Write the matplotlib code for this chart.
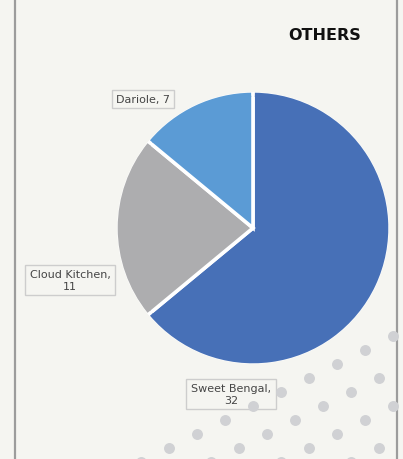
import matplotlib
matplotlib.use("Agg")
import matplotlib.pyplot as plt
from matplotlib.patches import Wedge

# data
labels = ["Sweet Bengal", "Cloud Kitchen", "Dariole"]
values = [32, 11, 7]
colors = ["#4770b7", "#adadaf", "#5b9bd5"]
title = "OTHERS"

# label box centres in pixels (layout)
label_pos = [(231, 395), (70, 281), (143, 100)]

W, H = 403, 460
bg = "#f5f5f1"

fig = plt.figure(figsize=(W / 100, H / 100), dpi=100)
fig.patch.set_facecolor(bg)

# background axes in pixel coordinates (y down)
bgax = fig.add_axes([0, 0, 1, 1])
bgax.set_xlim(0, W)
bgax.set_ylim(H, 0)
bgax.axis("off")

# frame lines left and right
bgax.plot([15, 15], [0, H], color="#9c9c9c", lw=1.6)
bgax.plot([397, 397], [0, H], color="#9c9c9c", lw=1.6)

# decorative dot pattern bottom right
xs, ys = [], []
for i in range(0, 10):
    for j in range(0, 6):
        x = 393 - 28 * i + 70 * j
        y = 337 + 14 * i
        if x <= 396:
            xs.append(x)
            ys.append(y)
bgax.scatter(xs, ys, s=62, color="#d0d1d4", lw=0, zorder=3)

# title
bgax.text(325, 36, title, fontsize=11.5, fontweight="bold", color="#111111",
          ha="center", va="center")

# pie, centre (253, 229)
cx, cy, r = 253, 229, 134
box = 140
ax = fig.add_axes([(cx - box) / W, (H - cy - box) / H, 2 * box / W, 2 * box / H])
wedges, _ = ax.pie(values, colors=colors, startangle=90, counterclock=False, radius=r,
                   wedgeprops=dict(edgecolor="white", linewidth=2.6))
# white only between slices: cover the outer rim stroke with slice colour
for w, c in zip(wedges, colors):
    ax.add_patch(Wedge((0, 0), r + 1.3, w.theta1 + 0.8, w.theta2 - 0.8,
                       width=4.3, facecolor=c, edgecolor="none"))
ax.set_xlim(-box, box)
ax.set_ylim(-box, box)
ax.set_aspect("equal")
ax.axis("off")

# data labels
for (lx, ly), name, v in zip(label_pos, labels, values):
    txt = f"{name}, {v}" if name == "Dariole" else f"{name},\n{v}"
    bgax.text(lx, ly, txt, fontsize=8, color="#454545", ha="center", va="center",
              multialignment="center", linespacing=1.15, zorder=2,
              bbox=dict(boxstyle="square,pad=0.4", facecolor=bg,
                        edgecolor="#cdcdcd", lw=1))

fig.savefig("out.png", dpi=100, facecolor=fig.get_facecolor())
